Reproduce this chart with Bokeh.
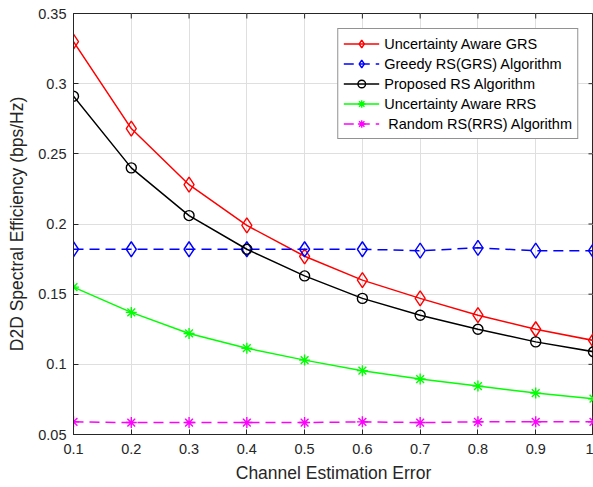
import math
from bokeh.plotting import figure
from bokeh.models import FixedTicker, Legend, LegendItem, Range1d
from bokeh.embed import file_html
from bokeh.resources import INLINE

x = [0.1, 0.2, 0.3, 0.4, 0.5, 0.6, 0.7, 0.8, 0.9, 1.0]
ua_grs = [0.330, 0.268, 0.228, 0.199, 0.177, 0.160, 0.147, 0.135, 0.125, 0.117]
greedy_grs = [0.182, 0.182, 0.182, 0.182, 0.182, 0.182, 0.181, 0.183, 0.181, 0.181]
proposed = [0.291, 0.240, 0.206, 0.182, 0.163, 0.147, 0.135, 0.125, 0.116, 0.109]
ua_rrs = [0.155, 0.137, 0.122, 0.1115, 0.103, 0.0955, 0.0895, 0.0845, 0.0795, 0.0755]
random_rrs = [0.059, 0.0585, 0.0585, 0.0585, 0.0585, 0.059, 0.0585, 0.059, 0.059, 0.059]

labels = ["Uncertainty Aware GRS", "Greedy RS(GRS) Algorithm", "Proposed RS Algorithm",
          "Uncertainty Aware RRS", " Random RS(RRS) Algorithm"]

x_ticks = [0.1, 0.2, 0.3, 0.4, 0.5, 0.6, 0.7, 0.8, 0.9, 1.0]
x_tick_labels = {0.1: "0.1", 0.2: "0.2", 0.3: "0.3", 0.4: "0.4", 0.5: "0.5",
                 0.6: "0.6", 0.7: "0.7", 0.8: "0.8", 0.9: "0.9", 1.0: "1"}
y_ticks = [0.05, 0.1, 0.15, 0.2, 0.25, 0.3, 0.35]
y_tick_labels = {0.05: "0.05", 0.1: "0.1", 0.15: "0.15", 0.2: "0.2",
                 0.25: "0.25", 0.3: "0.3", 0.35: "0.35"}

FONT = "Liberation Sans"
AX = "#262626"

p = figure(width=593, height=487, output_backend="svg", toolbar_location=None,
           x_range=Range1d(x_ticks[0], x_ticks[-1]), y_range=Range1d(y_ticks[0], y_ticks[-1]),
           min_border_left=73, min_border_right=0, min_border_top=13, min_border_bottom=53)
p.background_fill_color = "white"
p.border_fill_color = "white"
p.outline_line_color = AX

for ax in (p.xaxis[0], p.yaxis[0]):
    ax.major_tick_in = 5
    ax.major_tick_out = 0
    ax.minor_tick_in = 0
    ax.minor_tick_out = 0
    ax.axis_line_color = AX
    ax.major_tick_line_color = AX
    ax.major_label_text_font = FONT
    ax.major_label_text_font_size = "14.5px"
    ax.major_label_text_color = AX
    ax.axis_label_text_font = FONT
    ax.axis_label_text_font_size = "17.5px"
    ax.axis_label_text_font_style = "normal"
    ax.axis_label_text_color = AX

p.xaxis[0].ticker = FixedTicker(ticks=x_ticks)
p.xaxis[0].major_label_overrides = x_tick_labels
p.xaxis[0].axis_label = "Channel Estimation Error"
p.xaxis[0].major_label_standoff = 9
p.xaxis[0].axis_label_standoff = 6
p.yaxis[0].ticker = FixedTicker(ticks=y_ticks)
p.yaxis[0].major_label_overrides = y_tick_labels
p.yaxis[0].axis_label = "D2D Spectral Efficiency (bps/Hz)"
p.yaxis[0].major_label_standoff = 7
p.yaxis[0].axis_label_standoff = 8

p.xgrid.ticker = FixedTicker(ticks=x_ticks)
p.ygrid.ticker = FixedTicker(ticks=y_ticks)
p.xgrid.grid_line_color = "#dfdfdf"
p.ygrid.grid_line_color = "#dfdfdf"

# inward ticks on the top and right edges of the box (half of each dash is clipped by the frame)
p.scatter([x_ticks[-1]] * len(y_ticks), y_ticks, marker="dash", size=10,
          line_color=AX, line_width=1)
p.scatter(x_ticks, [y_ticks[-1]] * len(x_ticks), marker="dash", size=10, angle=math.pi / 2,
          line_color=AX, line_width=1)

items = []
series = [
    (ua_grs, "#ff0000", "solid", "diamond", 15),
    (greedy_grs, "#0000ff", "10 6", "diamond", 15),
    (proposed, "#000000", "solid", "circle", 10),
    (ua_rrs, "#00ff00", "solid", "asterisk", 11),
    (random_rrs, "#ff00ff", "10 6", "asterisk", 11),
]
for (ys, col, dash, mk, sz), lab in zip(series, labels):
    l = p.line(x, ys, line_color=col, line_width=1.5, line_dash=dash)
    m = p.scatter(x, ys, marker=mk, size=sz, line_color=col, fill_color=None, line_width=1.4)
    items.append(LegendItem(label=lab, renderers=[l, m]))

legend = Legend(items=items, location="top_right", margin=15,
                label_text_font=FONT, label_text_font_size="14.5px", label_text_color="#000000",
                glyph_width=36, glyph_height=19, label_height=19, label_standoff=5,
                spacing=1, padding=5, border_line_color=AX, border_line_width=1,
                background_fill_color="white", background_fill_alpha=1.0)
p.add_layout(legend)

open("out.html", "w").write(file_html(p, INLINE))
